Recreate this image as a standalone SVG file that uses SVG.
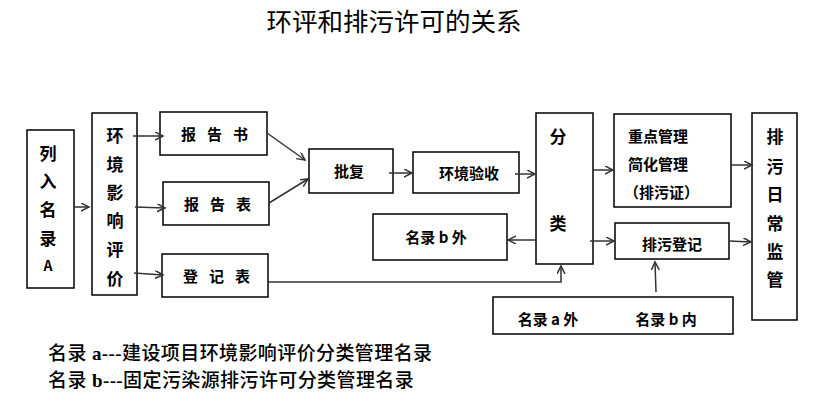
<svg xmlns="http://www.w3.org/2000/svg" width="837" height="401" viewBox="0 0 837 401">
<style>
.box{fill:#fff;stroke:#000;stroke-width:1.5}
.t{font-family:"Noto Sans CJK SC","Liberation Sans",sans-serif;font-weight:bold;font-size:15px;fill:#000;text-anchor:middle;dominant-baseline:central}
.tl{font-family:"Noto Sans CJK SC","Liberation Sans",sans-serif;font-weight:bold;font-size:15px;fill:#000;dominant-baseline:central}
.v{font-family:"Noto Sans CJK SC","Liberation Sans",sans-serif;font-weight:bold;font-size:17px;fill:#000;text-anchor:middle;dominant-baseline:central}
.c{fill:none;stroke:#333;stroke-width:1.5}
.title{font-family:"Liberation Serif","Noto Sans CJK SC",serif;font-size:25.5px;fill:#000;text-anchor:middle}
.note{font-family:"Liberation Serif","Noto Sans CJK SC",serif;font-size:19px;font-weight:500;fill:#000;letter-spacing:0.4px}
</style>
<defs>
<marker id="ah" markerWidth="10" markerHeight="10" refX="8" refY="4" orient="auto" markerUnits="userSpaceOnUse">
<path d="M0,0 L8,4 L0,8" fill="none" stroke="#333" stroke-width="1.5"/>
</marker>
</defs>
<rect width="837" height="401" fill="#fff"/>
<text class="title" x="394" y="31">环评和排污许可的关系</text>

<g id="n-liru">
<rect class="box" x="27" y="130" width="47" height="158"/>
<text class="v" x="48" y="152">列</text>
<text class="v" x="48" y="180">入</text>
<text class="v" x="48" y="208">名</text>
<text class="v" x="48" y="237">录</text>
<text class="v" x="48" y="265" style="font-size:14px">A</text>
</g>
<g id="n-huanping">
<rect class="box" x="92" y="113" width="45" height="182"/>
<text class="v" x="115" y="134">环</text>
<text class="v" x="115" y="163">境</text>
<text class="v" x="115" y="191">影</text>
<text class="v" x="115" y="219">响</text>
<text class="v" x="115" y="248">评</text>
<text class="v" x="115" y="277">价</text>
</g>
<g id="n-baogaoshu">
<rect class="box" x="160" y="112" width="107" height="43"/>
<text class="t" x="220" y="133" letter-spacing="11">报告书</text>
</g>
<g id="n-baogaobiao">
<rect class="box" x="163" y="182" width="106" height="43"/>
<text class="t" x="223" y="203" letter-spacing="11">报告表</text>
</g>
<g id="n-dengjibiao">
<rect class="box" x="162" y="254" width="106" height="43"/>
<text class="t" x="222" y="275" letter-spacing="11">登记表</text>
</g>
<g id="n-pifu">
<rect class="box" x="309" y="149" width="84" height="44"/>
<text class="t" x="349" y="170">批复</text>
</g>
<g id="n-yanshou">
<rect class="box" x="413" y="152" width="106" height="41"/>
<text class="t" x="469" y="172">环境验收</text>
</g>
<g id="n-mulubwai">
<rect class="box" x="373" y="214" width="134" height="46"/>
<text class="t" x="436" y="236">名录 b 外</text>
</g>
<g id="n-fenlei">
<rect class="box" x="536" y="113" width="57" height="151"/>
<text class="v" x="558" y="135">分</text>
<text class="v" x="558" y="222">类</text>
</g>
<g id="n-zhongdian">
<rect class="box" x="614" y="114" width="117" height="93"/>
<text class="tl" x="628" y="135">重点管理</text>
<text class="tl" x="628" y="163">简化管理</text>
<text class="tl" x="624" y="191">（排污证）</text>
</g>
<g id="n-paiwudengji">
<rect class="box" x="615" y="223" width="114" height="36"/>
<text class="t" x="672" y="243">排污登记</text>
</g>
<g id="n-richang">
<rect class="box" x="752" y="113" width="45" height="207"/>
<text class="v" x="775" y="135">排</text>
<text class="v" x="775" y="165">污</text>
<text class="v" x="775" y="193">日</text>
<text class="v" x="775" y="222">常</text>
<text class="v" x="775" y="250">监</text>
<text class="v" x="775" y="278">管</text>
</g>
<g id="n-mulua">
<rect class="box" x="493" y="297" width="240" height="37"/>
<text class="t" x="548" y="318">名录 a 外</text>
<text class="t" x="666" y="318">名录 b 内</text>
</g>

<g id="connectors">
<line class="c" x1="74" y1="207" x2="89" y2="207" marker-end="url(#ah)"/>
<line class="c" x1="133" y1="136" x2="163" y2="136" marker-end="url(#ah)"/>
<line class="c" x1="135" y1="207" x2="165" y2="208" marker-end="url(#ah)"/>
<line class="c" x1="134" y1="273" x2="163" y2="275" marker-end="url(#ah)"/>
<line class="c" x1="267" y1="133" x2="305" y2="160" marker-end="url(#ah)"/>
<line class="c" x1="269" y1="203" x2="308" y2="179" marker-end="url(#ah)"/>
<line class="c" x1="389" y1="173" x2="412" y2="173" marker-end="url(#ah)"/>
<line class="c" x1="515" y1="174" x2="535" y2="174" marker-end="url(#ah)"/>
<line class="c" x1="536" y1="240" x2="508" y2="240" marker-end="url(#ah)"/>
<polyline class="c" points="267,282 561,282 561,266" marker-end="url(#ah)"/>
<line class="c" x1="593" y1="170" x2="613" y2="170" marker-end="url(#ah)"/>
<line class="c" x1="590" y1="241" x2="614" y2="241" marker-end="url(#ah)"/>
<line class="c" x1="730" y1="165" x2="752" y2="165" marker-end="url(#ah)"/>
<line class="c" x1="729" y1="241" x2="751" y2="242" marker-end="url(#ah)"/>
<line class="c" x1="656" y1="292" x2="655" y2="262" marker-end="url(#ah)"/>
</g>

<text class="note" x="48" y="360">名录 <tspan font-weight="bold">a---</tspan>建设项目环境影响评价分类管理名录</text>
<text class="note" x="48" y="387">名录 <tspan font-weight="bold">b---</tspan>固定污染源排污许可分类管理名录</text>
</svg>
